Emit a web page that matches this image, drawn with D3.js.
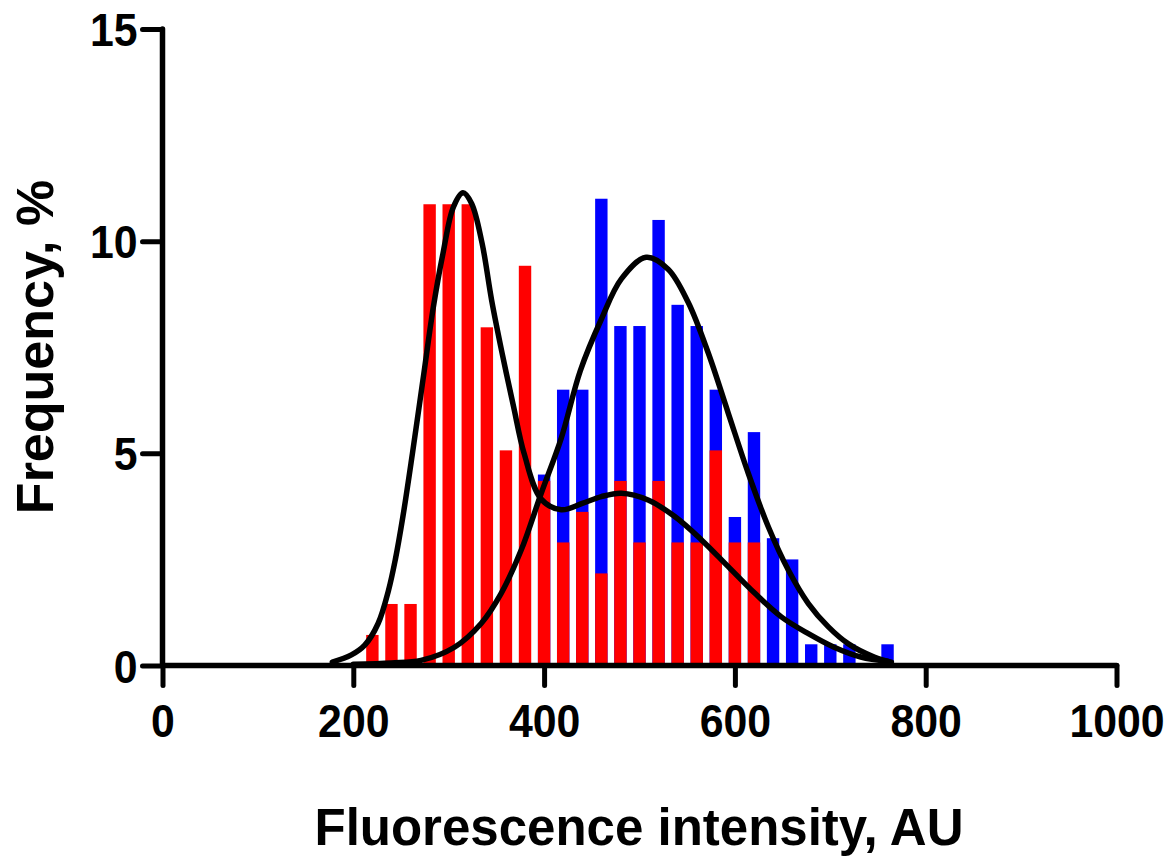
<!DOCTYPE html>
<html>
<head>
<meta charset="utf-8">
<script src="https://cdn.jsdelivr.net/npm/d3@7"></script>
<style>
  html, body { margin: 0; padding: 0; background: #fff; }
  svg { display: block; }
  text { font-family: "Liberation Sans", Arial, sans-serif; font-weight: bold; fill: #000; }
</style>
</head>
<body>
<svg id="chart" width="1175" height="863"></svg>
<script>
// ---- data ----
const binCenters = [220,240,260,280,300,320,340,360,380,400,420,440,460,480,500,520,540,560,580,600,620,640,660,680,700,720,740,760];
// red series: frequency, %
const redValues  = [0.72,1.45,1.45,10.87,10.87,10.87,7.97,5.07,9.42,4.35,2.90,3.62,2.17,4.35,2.90,4.35,2.90,2.90,5.07,2.90,2.90,0,0,0,0,0,0,0];
// blue series: frequency, % (bins below 400 are hidden behind the red bars)
const blueValues = [0,0,0,0,0,0,0,0,0,4.5,6.5,6.5,11.0,8.0,8.0,10.5,8.5,8.0,6.5,3.5,5.5,3.0,2.5,0.5,0.5,0.5,0,0.5];
// fitted curves, points [x, y]
const redFitX = [178,198,212,226,237,244,252,262,273,284,294,305,315,324,335,345,356,368,379,397,418,440,460,481,509,537,565,593,621,649,677,704,732,760];
const redFitY = [0.08,0.25,0.48,0.99,1.78,2.49,3.51,5.0,6.73,8.46,9.71,10.81,11.14,10.89,9.95,8.61,7.36,6.1,5.0,3.92,3.67,3.82,3.98,4.06,3.9,3.51,2.96,2.33,1.7,1.14,0.75,0.43,0.2,0.1];
const blueFitX = [200,240,271,306,334,355,376,397,418,438,460,481,507,530,551,572,593,614,635,656,677,698,719,746,764];
const blueFitY = [0.03,0.06,0.12,0.43,0.99,1.7,2.72,4.06,5.36,6.95,8.16,9.11,9.62,9.34,8.56,7.37,5.95,4.53,3.27,2.25,1.46,0.91,0.51,0.2,0.08];
const xTicks = [0,200,400,600,800,1000];
const yTicks = [0,5,10,15];
const xTitle = "Fluorescence intensity, AU";
const yTitle = "Frequency, %";

// ---- layout ----
const svg = d3.select("#chart");
const x = d3.scaleLinear().domain([0,1000]).range([162.5,1116.5]);
const y = d3.scaleLinear().domain([0,15]).range([665.5,29]);
const barHalf = 6.5; // in data units

const g = svg.append("g");

// blue bars (behind)
g.selectAll("rect.blue").data(binCenters.map((c,i)=>({c, v: blueValues[i]})).filter(d=>d.v>0))
  .enter().append("rect").attr("class","blue")
  .attr("x", d=>x(d.c-barHalf)).attr("width", d=>x(d.c+barHalf)-x(d.c-barHalf))
  .attr("y", d=>y(d.v)).attr("height", d=>y(0)-y(d.v))
  .attr("fill","#0000ff");

// red bars (front)
g.selectAll("rect.red").data(binCenters.map((c,i)=>({c, v: redValues[i]})).filter(d=>d.v>0))
  .enter().append("rect").attr("class","red")
  .attr("x", d=>x(d.c-barHalf)).attr("width", d=>x(d.c+barHalf)-x(d.c-barHalf))
  .attr("y", d=>y(d.v)).attr("height", d=>y(0)-y(d.v))
  .attr("fill","#ff0000");

// curves
const line = d3.line().x(d=>x(d[0])).y(d=>y(d[1])).curve(d3.curveCatmullRom.alpha(0.5));
g.append("path").datum(blueFitX.map((v,i)=>[v, blueFitY[i]]))
  .attr("d", line).attr("fill","none").attr("stroke","#000").attr("stroke-width",5.5).attr("stroke-linecap","round");
g.append("path").datum(redFitX.map((v,i)=>[v, redFitY[i]]))
  .attr("d", line).attr("fill","none").attr("stroke","#000").attr("stroke-width",5.5).attr("stroke-linecap","round");

// axes
const xAxis = d3.axisBottom(x).tickValues(xTicks).tickSize(20).tickPadding(14).tickFormat(d3.format("d"));
const yAxis = d3.axisLeft(y).tickValues(yTicks).tickSize(20).tickPadding(6).tickFormat(d3.format("d"));

const gx = svg.append("g").attr("transform", `translate(0,${y(0)})`).call(xAxis);
const gy = svg.append("g").attr("transform", `translate(${x(0)},0)`).call(yAxis);

[gx, gy].forEach(a => {
  a.select(".domain").remove();
  a.selectAll(".tick line").attr("stroke","#000").attr("stroke-width",5).attr("stroke-linecap","round");
  a.selectAll(".tick text").attr("font-size",46).attr("font-family",'"Liberation Sans", Arial, sans-serif').attr("font-weight","bold")
    .attr("lengthAdjust","spacingAndGlyphs").attr("textLength", d => String(d).length*23.8);
});
gx.selectAll(".tick text").attr("dy", null).attr("y", 71);
gy.selectAll(".tick text").attr("dy", "0.36em").attr("x", -25);

// axis lines
svg.append("line").attr("x1", x(0)).attr("x2", x(1000)).attr("y1", y(0)).attr("y2", y(0))
  .attr("stroke","#000").attr("stroke-width",5.5).attr("stroke-linecap","round");
svg.append("line").attr("x1", x(0)).attr("x2", x(0)).attr("y1", y(0)).attr("y2", y(15))
  .attr("stroke","#000").attr("stroke-width",5.5).attr("stroke-linecap","round");

// titles
svg.append("text").attr("x", 639).attr("y", 845).attr("text-anchor","middle")
  .attr("font-size",51).text(xTitle);
svg.append("text").attr("transform","translate(53,347) rotate(-90)").attr("text-anchor","middle")
  .attr("font-size",52).text(yTitle);
</script>
</body>
</html>
